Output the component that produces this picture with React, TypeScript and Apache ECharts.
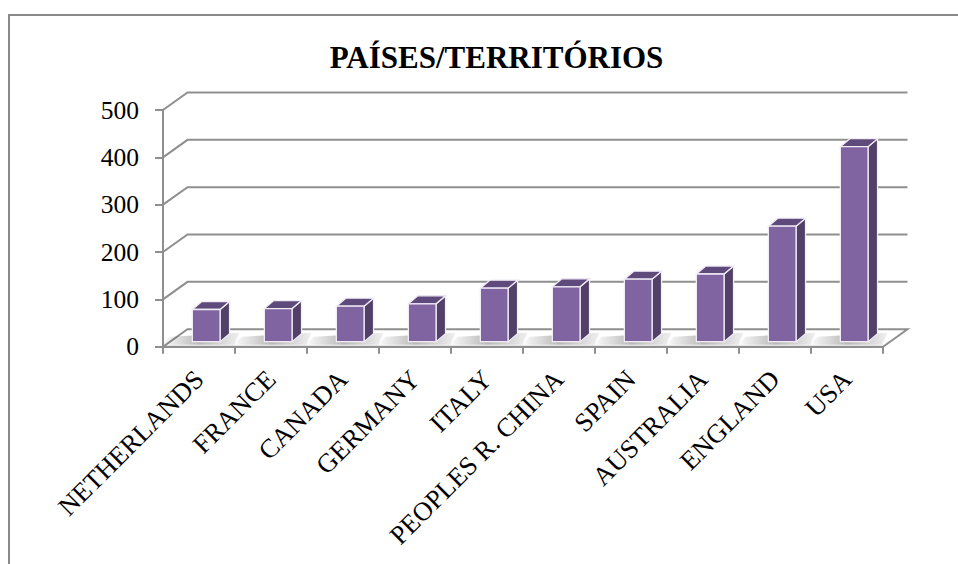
import React, { useEffect, useRef } from "react";
import * as echarts from "echarts";

const categories = [
  "NETHERLANDS",
  "FRANCE",
  "CANADA",
  "GERMANY",
  "ITALY",
  "PEOPLES R. CHINA",
  "SPAIN",
  "AUSTRALIA",
  "ENGLAND",
  "USA",
];
const values = [68, 70, 75, 80, 113, 116, 132, 143, 244, 412];
const yTicks = [0, 100, 200, 300, 400, 500];
const titleText = "PAÍSES/TERRITÓRIOS";

const GRID_COLOR = "#8F8F8F";
const FONT = "Liberation Serif";
// perspective offsets (pixels)
const WALL_DX = 24.5;
const WALL_DY = -17.5;
const BAR_SX = 7.2;
const BAR_SY = -5;
const BAR_DX = 9.5;
const BAR_DY = -8;

export default function App() {
  const ref = useRef<HTMLDivElement>(null);

  useEffect(() => {
    if (!ref.current) return;
    const chart = echarts.init(ref.current, undefined, { renderer: "svg" });

    const wallItem = (params: any, api: any) => {
      const v = api.value(1);
      const cs = params.coordSys;
      const y = api.coord([0, v])[1];
      const x0 = cs.x;
      const x1 = cs.x + cs.width;
      if (v === 0) {
        return {
          type: "polygon",
          shape: {
            points: [
              [x0, y],
              [x0 + WALL_DX, y + WALL_DY],
              [x1 + WALL_DX, y + WALL_DY],
              [x1, y],
            ],
          },
          style: { fill: "#ffffff", stroke: GRID_COLOR, lineWidth: 2 },
        };
      }
      return {
        type: "polyline",
        shape: {
          points: [
            [x0, y],
            [x0 + WALL_DX, y + WALL_DY],
            [x1 + WALL_DX, y + WALL_DY],
          ],
        },
        style: { fill: "none", stroke: GRID_COLOR, lineWidth: 2 },
      };
    };

    const barItem = (params: any, api: any) => {
      const idx = api.value(0);
      const v = api.value(1);
      const base = api.coord([idx, 0]);
      const top = api.coord([idx, v]);
      const band = api.size([1, 0])[0];
      const w = band * 0.385;
      const fx0 = base[0] - w / 2 + BAR_SX;
      const fx1 = fx0 + w;
      const fyB = base[1] + BAR_SY;
      const fyT = top[1] + BAR_SY;
      const edge = { stroke: "#F1ECF6", lineWidth: 1.3 };
      return {
        type: "group",
        children: [
          {
            type: "polygon",
            shape: {
              points: [
                [fx0 - 32, fyB + 3],
                [fx0 - 22, fyB - 5],
                [fx1 + BAR_DX + 10, fyB + BAR_DY - 1],
                [fx1 + 14, fyB + 3],
              ],
            },
            style: {
              fill: new echarts.graphic.LinearGradient(0, 0, 1, 0, [
                { offset: 0, color: "rgba(0,0,0,0)" },
                { offset: 0.5, color: "rgba(0,0,0,0.28)" },
                { offset: 1, color: "rgba(0,0,0,0.06)" },
              ]),
            },
          },
          {
            type: "polygon",
            shape: {
              points: [
                [fx1, fyB],
                [fx1 + BAR_DX, fyB + BAR_DY],
                [fx1 + BAR_DX, fyT + BAR_DY],
                [fx1, fyT],
              ],
            },
            style: { fill: "#534069", ...edge },
          },
          {
            type: "polygon",
            shape: {
              points: [
                [fx0, fyT],
                [fx0 + BAR_DX, fyT + BAR_DY],
                [fx1 + BAR_DX, fyT + BAR_DY],
                [fx1, fyT],
              ],
            },
            style: { fill: "#5F4A7C", ...edge },
          },
          {
            type: "polygon",
            shape: {
              points: [
                [fx0, fyB],
                [fx0, fyT],
                [fx1, fyT],
                [fx1, fyB],
              ],
            },
            style: { fill: "#8064A2", ...edge },
          },
        ],
      };
    };

    chart.setOption({
      animation: false,
      backgroundColor: "#ffffff",
      title: {
        text: titleText,
        left: 491.5,
        top: 37,
        textAlign: "center",
        textStyle: {
          fontFamily: FONT,
          fontWeight: "bold",
          fontSize: 31,
          color: "#000000",
        },
      },
      graphic: [
        {
          type: "rect",
          shape: { x: 9, y: 15, width: 1000, height: 620 },
          style: { fill: "none", stroke: "#8A8A8A", lineWidth: 2 },
          silent: true,
        },
      ],
      grid: { left: 163, right: 75, top: 110, bottom: 217.3 },
      xAxis: {
        type: "category",
        data: categories,
        axisLine: { show: true, lineStyle: { color: GRID_COLOR, width: 2 } },
        axisTick: {
          show: true,
          length: 7,
          lineStyle: { color: GRID_COLOR, width: 2 },
        },
        axisLabel: {
          interval: 0,
          rotate: 45,
          margin: 28,
          fontFamily: FONT,
          fontSize: 26.5,
          color: "#000000",
        },
        splitLine: { show: false },
      },
      yAxis: {
        type: "value",
        min: 0,
        max: 500,
        interval: 100,
        axisLine: { show: true, lineStyle: { color: GRID_COLOR, width: 2 } },
        axisTick: {
          show: true,
          length: 8,
          lineStyle: { color: GRID_COLOR, width: 2 },
        },
        axisLabel: {
          margin: 24,
          fontFamily: FONT,
          fontSize: 25.5,
          color: "#000000",
        },
        splitLine: { show: false },
      },
      series: [
        {
          type: "custom",
          name: "walls",
          z: 1,
          clip: false,
          silent: true,
          data: yTicks.map((t) => [0, t]),
          renderItem: wallItem,
        },
        {
          type: "custom",
          name: "bars",
          z: 3,
          clip: false,
          data: values.map((v, i) => [i, v]),
          renderItem: barItem,
        },
      ],
    });

    return () => {
      chart.dispose();
    };
  }, []);

  return (
    <div
      ref={ref}
      style={{ position: "fixed", left: 0, top: 0, width: 958, height: 564 }}
    />
  );
}
